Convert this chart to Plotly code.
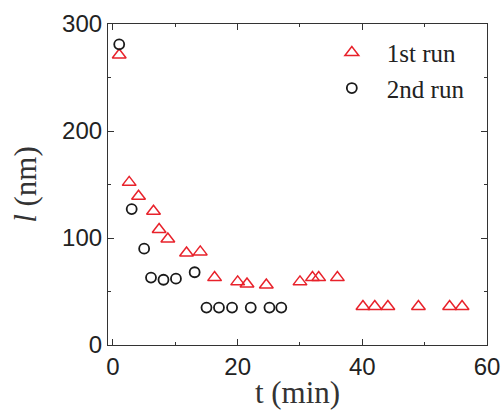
import plotly.graph_objects as go

run1_t = [1.0, 2.6, 4.1, 6.5, 7.4, 8.8, 11.8, 14.0, 16.3, 20.0, 21.5, 24.6, 30.0, 32.0, 33.0, 36.0, 40.1, 42.0, 44.1, 49.0, 54.0, 56.0]
run1_l = [271, 152, 139, 125, 108, 99, 86, 87, 63, 59, 57, 56, 59, 63, 63, 63, 36, 36, 36, 36, 36, 36]

run2_t = [1.0, 3.0, 5.0, 6.1, 8.1, 10.1, 13.1, 15.0, 17.0, 19.1, 22.1, 25.1, 27.0]
run2_l = [281, 127, 90, 63, 61, 62, 68, 35, 35, 35, 35, 35, 35]

red = "#e8222b"
black = "#1a1a1a"

fig = go.Figure()
fig.add_trace(go.Scatter(x=run1_t, y=run1_l, mode="markers", name="1st run", legendgroup="a",
                         marker=dict(symbol="triangle-up-open", size=12, color=red, line=dict(width=1.5, color=red))))
fig.add_trace(go.Scatter(x=run2_t, y=run2_l, mode="markers", name="2nd run", legendgroup="b",
                         marker=dict(symbol="circle-open", size=10, color=black, line=dict(width=1.8, color=black))))

axis_common = dict(showline=True, linecolor="#333", linewidth=1.2, mirror="ticks", ticks="inside",
                   ticklen=6, tickwidth=1, tickcolor="#333", showgrid=False, zeroline=False,
                   automargin=False,
                   tickfont=dict(family="Liberation Sans, Arial", size=24, color="#222"))

title_font = dict(family="Liberation Serif", size=31, color="#333")

fig.update_xaxes(range=[-0.8, 60], dtick=20, tick0=0,
                 minor=dict(dtick=10, ticks="inside", ticklen=3, tickcolor="#333"),
                 title=dict(text="t (min)", font=title_font, standoff=4),
                 **axis_common)
fig.update_yaxes(range=[0, 300], dtick=100, tick0=0,
                 minor=dict(dtick=50, ticks="inside", ticklen=3, tickcolor="#333"),
                 title=dict(text="<i>l</i> (nm)", font=title_font, standoff=16),
                 **axis_common)

fig.update_layout(width=504, height=410, margin=dict(l=108, r=17, t=24, b=65),
                  plot_bgcolor="white", paper_bgcolor="white", showlegend=True,
                  legend=dict(x=0.551, y=0.982, xanchor="left", yanchor="top", bgcolor="rgba(0,0,0,0)",
                              font=dict(family="Liberation Serif", size=25, color="#222"),
                              itemwidth=60, tracegroupgap=0, traceorder="grouped"))

fig.write_html("out.html")
